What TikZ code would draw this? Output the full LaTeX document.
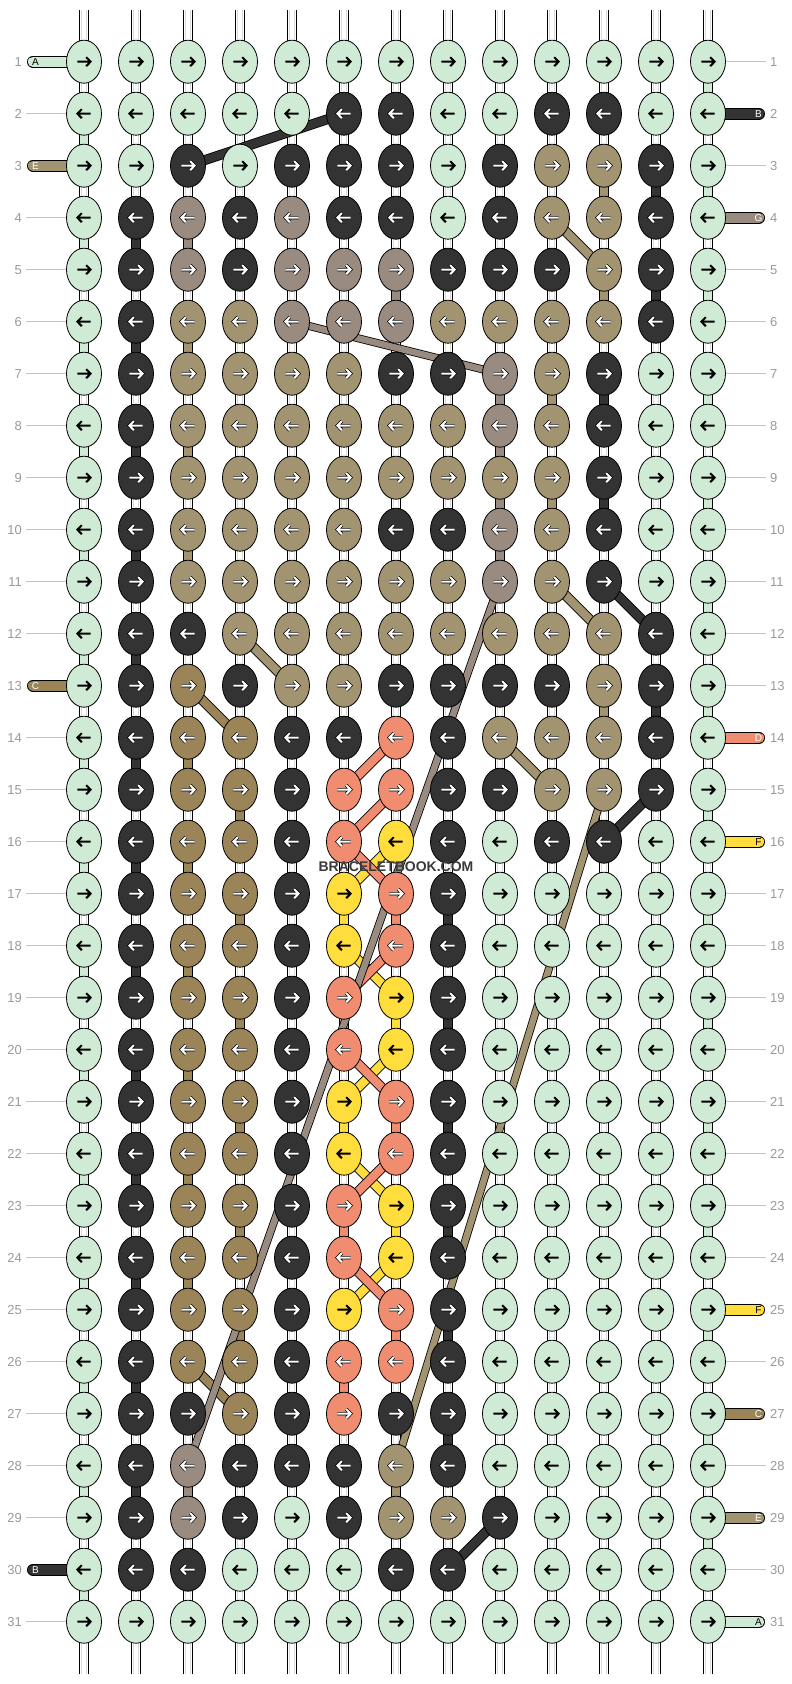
\documentclass[tikz,border=0pt]{standalone}
\usepackage{fontspec}
\setmainfont{Liberation Sans}
\usetikzlibrary{shapes.geometric, backgrounds}
\definecolor{cg}{HTML}{CFEBD5}
\definecolor{ck}{HTML}{333333}
\definecolor{ct}{HTML}{A39471}
\definecolor{cp}{HTML}{998B80}
\definecolor{cc}{HTML}{9B8558}
\definecolor{cs}{HTML}{F08C70}
\definecolor{cy}{HTML}{FFDD3C}
\definecolor{numgrey}{HTML}{9A9A9A}
\definecolor{tubegrey}{HTML}{DADADA}
\definecolor{markgrey}{HTML}{3A3A3A}
\tikzset{
	knot/.style = {ellipse, draw=black, line width=0.8pt, minimum width=35pt, minimum height=43pt, inner sep=0pt},
	hlink/.style = {draw=black, line width=0.8pt, double=cg, double distance=10.4pt},
	vlink/.style = {draw=black, line width=0.8pt, double=#1, double distance=8.4pt},
	tube/.style = {preaction={draw=black, line width=10pt}, preaction={draw=white, line width=8.4pt},
		preaction={draw=tubegrey, line width=5.6pt}, draw=white, line width=4pt},
	thread/.style = {draw=black, line width=0.8pt, double=#1, double distance=8.4pt},
	longthread/.style = {draw=black, line width=0.8pt, double=#1, double distance=6.4pt},
	endthread/.style = {draw=black, line width=0.8pt, double=#1, double distance=10.4pt, line cap=round},
	numline/.style = {draw=numgrey!60, line width=0.8pt},
	rownum/.style = {text=numgrey, font=\fontsize{13}{13}\selectfont, inner sep=0pt},
	endtag/.style = {font=\fontsize{10}{10}\selectfont, inner sep=0pt},
	inkdark/.style = {draw=black, line width=2pt},
	inklight/.style = {preaction={draw=black, line width=3.4pt}, draw=white, line width=2pt},
	ink-g/.style = {inkdark}, ink-y/.style = {inkdark},
	ink-k/.style = {inklight}, ink-t/.style = {inklight}, ink-p/.style = {inklight},
	ink-c/.style = {inklight}, ink-s/.style = {inklight},
	pics/knotarrow/.style 2 args = {code = {
		\draw[ink-#2, xscale=#1] (-6.6,0) -- (6.2,0) (2.2,-4.5) -- (6.6,0) -- (2.2,4.5);
	}},
}
\begin{document}
\begin{tikzpicture}[x=1pt, y=-1pt]
	\useasboundingbox (0,0) rectangle (792,1684);
	% knots, one row per line
	\foreach \row [count=\r] in {
		{g,g,g,g,g,g,g,g,g,g,g,g,g},
		{g,g,g,g,g,k,k,g,g,k,k,g,g},
		{g,g,k,g,k,k,k,g,k,t,t,k,g},
		{g,k,p,k,p,k,k,g,k,t,t,k,g},
		{g,k,p,k,p,p,p,k,k,k,t,k,g},
		{g,k,t,t,p,p,p,t,t,t,t,k,g},
		{g,k,t,t,t,t,k,k,p,t,k,g,g},
		{g,k,t,t,t,t,t,t,p,t,k,g,g},
		{g,k,t,t,t,t,t,t,t,t,k,g,g},
		{g,k,t,t,t,t,k,k,p,t,k,g,g},
		{g,k,t,t,t,t,t,t,p,t,k,g,g},
		{g,k,k,t,t,t,t,t,t,t,t,k,g},
		{g,k,c,k,t,t,k,k,k,k,t,k,g},
		{g,k,c,c,k,k,s,k,t,t,t,k,g},
		{g,k,c,c,k,s,s,k,k,t,t,k,g},
		{g,k,c,c,k,s,y,k,g,k,k,g,g},
		{g,k,c,c,k,y,s,k,g,g,g,g,g},
		{g,k,c,c,k,y,s,k,g,g,g,g,g},
		{g,k,c,c,k,s,y,k,g,g,g,g,g},
		{g,k,c,c,k,s,y,k,g,g,g,g,g},
		{g,k,c,c,k,y,s,k,g,g,g,g,g},
		{g,k,c,c,k,y,s,k,g,g,g,g,g},
		{g,k,c,c,k,s,y,k,g,g,g,g,g},
		{g,k,c,c,k,s,y,k,g,g,g,g,g},
		{g,k,c,c,k,y,s,k,g,g,g,g,g},
		{g,k,c,c,k,s,s,k,g,g,g,g,g},
		{g,k,k,c,k,s,k,k,g,g,g,g,g},
		{g,k,p,k,k,k,t,k,g,g,g,g,g},
		{g,k,p,k,g,k,t,t,k,g,g,g,g},
		{g,k,k,g,g,g,k,k,g,g,g,g,g},
		{g,g,g,g,g,g,g,g,g,g,g,g,g}}{
		\ifodd\r\relax \def\dir{1}\else \def\dir{-1}\fi
		\foreach \col [count=\c] in \row {
			\node[knot, fill=c\col] (k-\r-\c) at ({84+52*(\c-1)}, {61.7+52*(\r-1)}) {};
			\pic at (k-\r-\c) {knotarrow={\dir}{\col}};
		}
	}
	\begin{pgfonlayer}{background}
		\fill[white] (0,0) rectangle (792,1684);
		\foreach \r in {1,...,31}
			\foreach \c [evaluate=\c as \n using int(\c+1)] in {1,...,12}
				\draw[hlink] (k-\r-\c.center) -- (k-\r-\n.center);
		\foreach \c in {1,...,13} {
			\coordinate (top-\c) at ({84+52*(\c-1)}, 10);
			\coordinate (bot-\c) at ({84+52*(\c-1)}, 1674);
			\draw[tube, line cap=round] (top-\c) -- (k-1-\c.center);
			\draw[tube, line cap=round] (k-31-\c.center) -- (bot-\c);
			\foreach \r [evaluate=\r as \n using int(\r+1)] in {1,...,30}
				\draw[tube] (k-\r-\c.center) -- (k-\n-\c.center);
		}
		% background thread turning at the edges
		\foreach \r [evaluate=\r as \n using int(\r+1), evaluate=\r as \e using {isodd(\r) ? 13 : 1}] in {1,...,30}
			\draw[vlink=cg] (k-\r-\e.center) -- (k-\n-\e.center);
		\foreach \c/\r/\clr in {12/3/ck, 2/4/ck, 12/5/ck, 2/6/ck, 11/7/ck, 2/8/ck, 11/9/ck, 2/10/ck,
			2/12/ck, 12/13/ck, 2/14/ck, 2/16/ck, 8/17/ck, 2/18/ck, 8/19/ck, 2/20/ck, 8/21/ck,
			2/22/ck, 8/23/ck, 2/24/ck, 8/25/ck, 2/26/ck, 8/27/ck, 2/28/ck,
			11/3/ct, 11/5/ct, 3/6/ct, 10/7/ct, 3/8/ct, 10/9/ct, 3/10/ct, 11/13/ct, 7/28/ct,
			3/4/cp, 7/5/cp, 9/7/cp, 9/8/cp, 9/9/cp, 9/10/cp, 3/28/cp,
			3/14/cc, 4/15/cc, 3/16/cc, 4/17/cc, 3/18/cc, 4/19/cc, 3/20/cc, 4/21/cc,
			3/22/cc, 4/23/cc, 3/24/cc, 4/25/cc,
			7/17/cs, 6/19/cs, 7/21/cs, 6/23/cs, 7/25/cs, 6/26/cs,
			6/17/cy, 7/19/cy, 6/21/cy, 7/23/cy} {
			\pgfmathtruncatemacro\n{\r+1}
			\draw[vlink=\clr] (k-\r-\c.center) -- (k-\n-\c.center);
		}
		% threads moving across columns
		\foreach \ra/\ca/\rb/\cb/\clr in {2/6/3/3/ck, 11/11/12/12/ck, 15/12/16/11/ck, 29/9/30/8/ck,
			4/10/5/11/ct, 11/10/12/11/ct, 12/4/13/5/ct, 14/9/15/10/ct,
			13/3/14/4/cc, 26/3/27/4/cc,
			16/7/17/6/cy, 18/6/19/7/cy, 20/7/21/6/cy, 22/6/23/7/cy, 24/7/25/6/cy,
			14/7/15/6/cs, 15/7/16/6/cs, 16/6/17/7/cs, 18/7/19/6/cs, 20/6/21/7/cs, 22/7/23/6/cs, 24/6/25/7/cs}
			\draw[thread=\clr] (k-\ra-\ca.center) -- (k-\rb-\cb.center);
		\foreach \ra/\ca/\rb/\cb/\clr in {6/5/7/9/cp, 11/9/28/3/cp, 15/11/28/7/ct}
			\draw[longthread=\clr] (k-\ra-\ca.center) -- (k-\rb-\cb.center);
		% loose ends
		\foreach \r/\clr/\txt/\ink in {1/cg/A/black, 3/ct/E/white, 13/cc/C/white, 30/ck/B/white} {
			\coordinate (lend-\r) at (33, {61.7+52*(\r-1)});
			\draw[endthread=\clr] (lend-\r) -- (k-\r-1.center);
			\node[endtag, text=\ink] (ltag-\r) at (35.5, {61.7+52*(\r-1)}) {\txt};
		}
		\foreach \r/\clr/\txt/\ink in {2/ck/B/white, 4/cp/G/white, 14/cs/D/white, 16/cy/F/black,
			25/cy/F/black, 27/cc/C/white, 29/ct/E/white, 31/cg/A/black} {
			\coordinate (rend-\r) at (759, {61.7+52*(\r-1)});
			\draw[endthread=\clr] (k-\r-13.center) -- (rend-\r);
			\node[endtag, text=\ink] (rtag-\r) at (758.5, {61.7+52*(\r-1)}) {\txt};
		}
	\end{pgfonlayer}
	% row numbers
	\foreach \r in {1,...,31} {
		\node[rownum, anchor=east] (ln-\r) at (22, {61.7+52*(\r-1)}) {\r};
		\node[rownum, anchor=west] (rn-\r) at (770, {61.7+52*(\r-1)}) {\r};
	}
	\foreach \r in {2,4,5,6,7,8,9,10,11,12,14,15,16,17,18,19,20,21,22,23,24,25,26,27,28,29,31}
		\draw[numline] ([xshift=4pt]ln-\r.east) -- (k-\r-1.west);
	\foreach \r in {1,3,5,6,7,8,9,10,11,12,13,15,17,18,19,20,21,22,23,24,26,28,30}
		\draw[numline] (k-\r-13.east) -- ([xshift=-4pt]rn-\r.west);
	\node[font=\bfseries\fontsize{14}{14}\selectfont, text=markgrey] (mark) at (396, 867) {BRACELETBOOK.COM};
\end{tikzpicture}
\end{document}
